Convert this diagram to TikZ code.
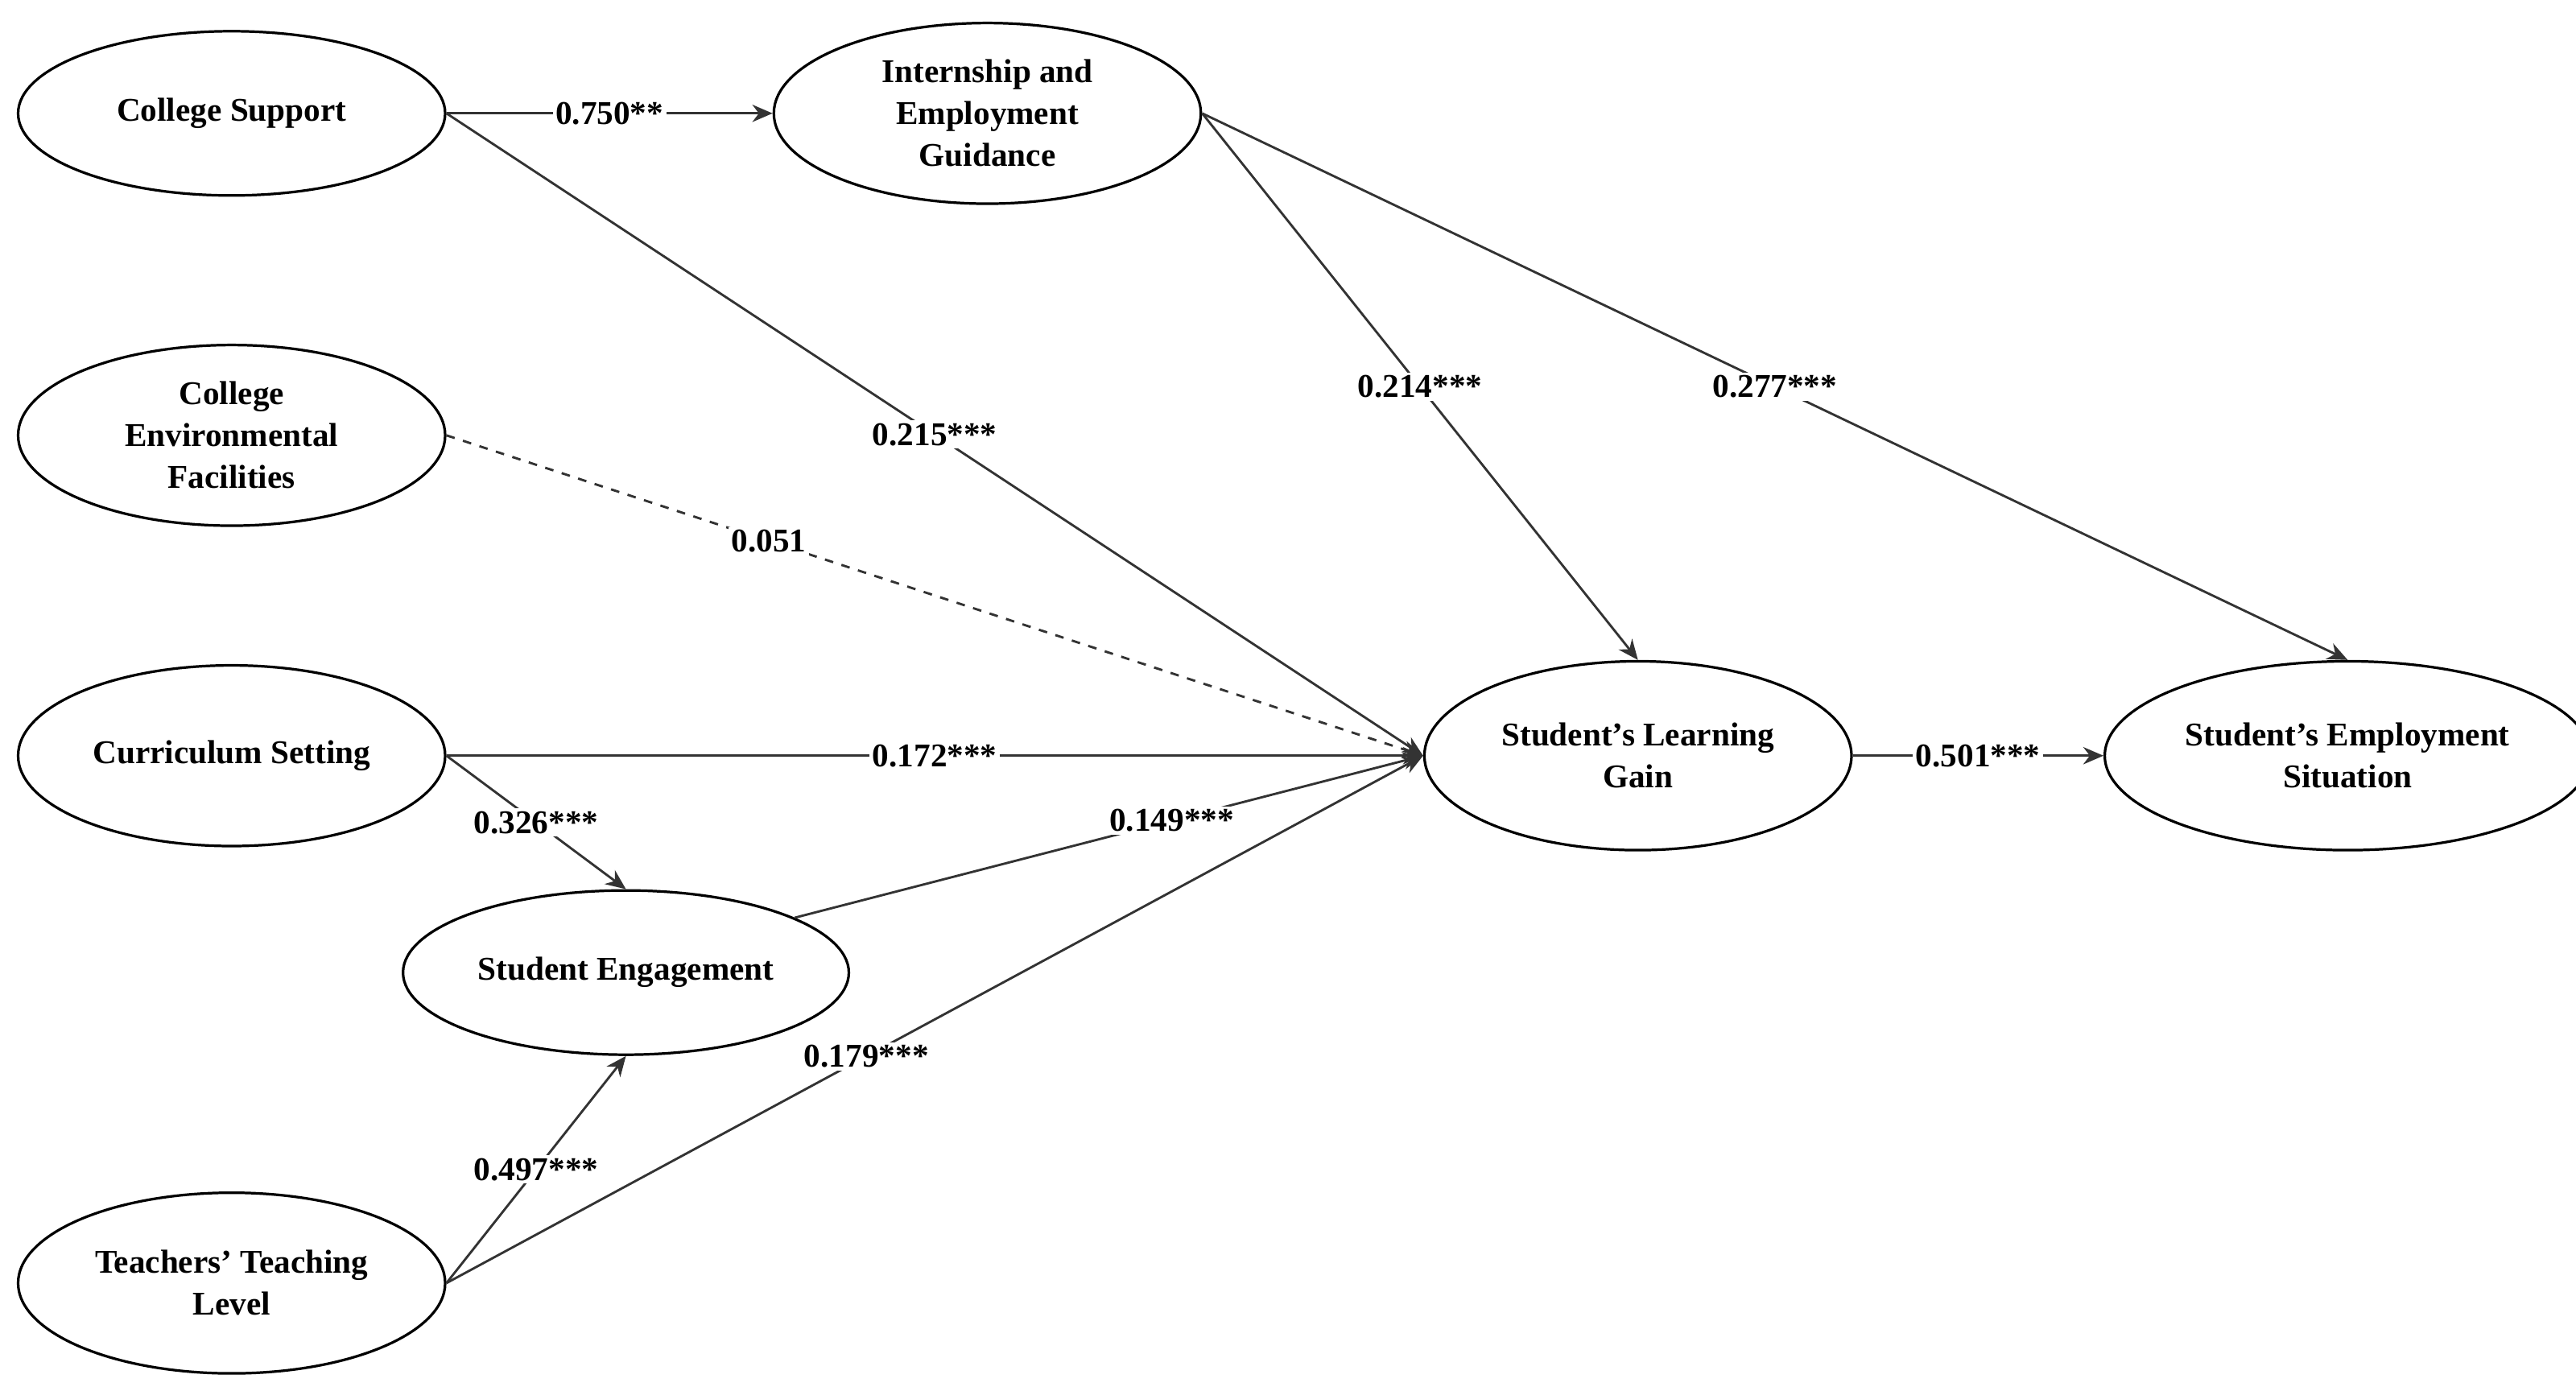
\documentclass[tikz,border=0pt]{standalone}
\usepackage{fontspec}
\setmainfont{Liberation Serif}
\usetikzlibrary{shapes.geometric,arrows.meta}
\begin{document}
\begin{tikzpicture}[x=0.02cm,y=-0.02cm,
  var/.style={ellipse,draw,line width=0.9pt,minimum width=5.2cm,minimum height=2.2cm,align=center,font=\fontsize{11.5}{14.5}\selectfont\bfseries},
  link/.style={-{Stealth[length=7pt,width=6pt]},line width=0.8pt,draw=black!80},
  lab/.style={fill=white,inner sep=1pt,font=\fontsize{11.5}{14}\selectfont\bfseries}]
\useasboundingbox (0,0) rectangle (1568,844);
\node[var,minimum height=2cm] (cs) at (141,69) {College Support};
\node[var] (ie) at (601,69) {Internship and\\Employment\\Guidance};
\node[var] (ce) at (141,265) {College\\Environmental\\Facilities};
\node[var] (cu) at (141,460) {Curriculum Setting};
\node[var,minimum height=2cm] (se) at (381,592) {Student Engagement};
\node[var] (tt) at (141,781) {Teachers' Teaching\\Level};
\node[var,minimum height=2.3cm] (lg) at (997,460) {Student's Learning\\Gain};
\node[var,minimum height=2.3cm] (es) at (1429,460) {Student's Employment\\Situation};
\draw[link] (cs.east) -- node[lab,pos=0.5]{0.750**} (ie.west);
\draw[link] (cs.east) -- node[lab,pos=0.5]{0.215***} (lg.west);
\draw[link] (ie.east) -- node[lab,pos=0.5]{0.214***} (lg.north);
\draw[link] (ie.east) -- node[lab,pos=0.5]{0.277***} (es.north);
\draw[link,dashed] (ce.east) -- node[lab,pos=0.33]{0.051} (lg.west);
\draw[link] (cu.east) -- node[lab,pos=0.5]{0.172***} (lg.west);
\draw[link] (cu.east) -- node[lab,pos=0.5]{0.326***} (se.north);
\draw[link] (se.18) -- node[lab,pos=0.6]{0.149***} (lg.west);
\draw[link] (tt.east) -- node[lab,pos=0.5]{0.497***} (se.south);
\draw[link] (tt.east) -- node[lab,pos=0.43]{0.179***} (lg.west);
\draw[link] (lg.east) -- node[lab,pos=0.5]{0.501***} (es.west);
\end{tikzpicture}
\end{document}
